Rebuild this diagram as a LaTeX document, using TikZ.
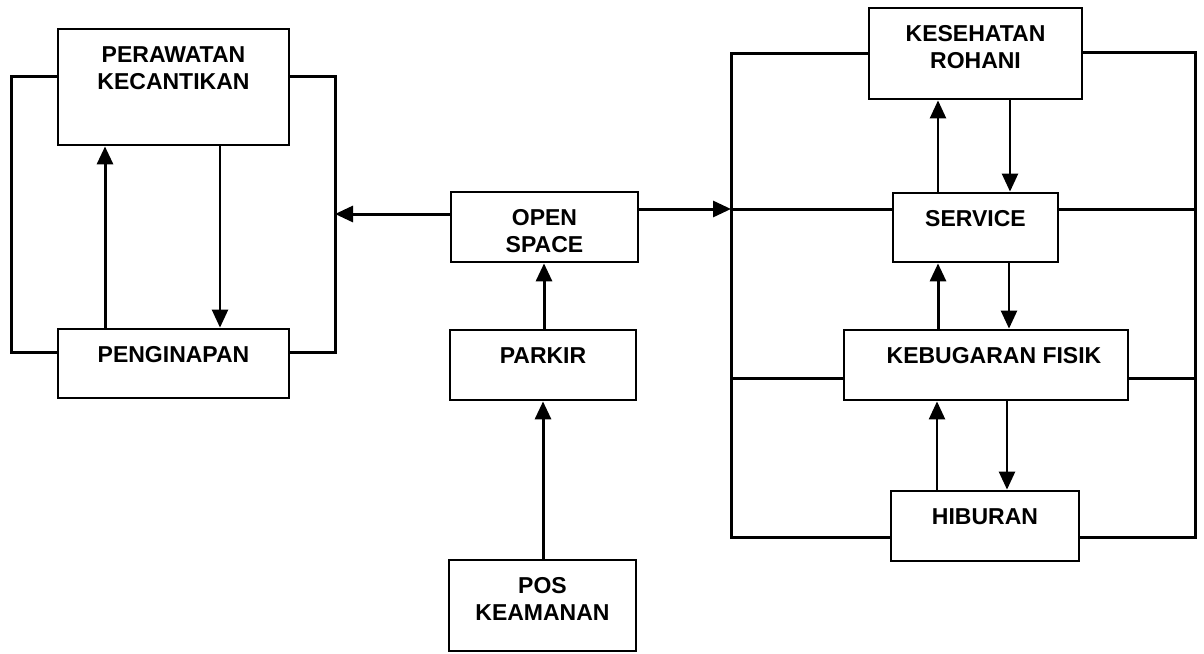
\documentclass[tikz,border=0pt]{standalone}
\usepackage{fontspec}
\setmainfont{Liberation Sans}
\usetikzlibrary{arrows.meta}
\tikzset{
  box/.style={draw, line width=2.8pt, inner sep=0pt, rectangle},
  lbl/.style={anchor=north, inner sep=0pt, yshift=-19pt, align=center,
    font=\fontsize{23}{26.5}\selectfont\bfseries},
  conn/.style={draw, line width=3pt, line cap=rect},
  conarr/.style={draw, line width=3pt, -{Triangle[length=18pt,width=16pt]}},
  conarrthin/.style={draw, line width=2.4pt, -{Triangle[length=18pt,width=16pt]}}
}
\begin{document}
\begin{tikzpicture}[x=1pt,y=-1pt]
\useasboundingbox (0,0) rectangle (1204,653);
% boxes
\node[box, minimum width=231pt, minimum height=116pt, label={[lbl]north:PERAWATAN\\KECANTIKAN}] (pk) at (173.5,87) {};
\node[box, minimum width=231pt, minimum height=69pt, label={[lbl]north:PENGINAPAN}] (pg) at (173.5,363.5) {};
\node[box, minimum width=187pt, minimum height=70pt, label={[lbl]north:OPEN\\SPACE}] (os) at (544.5,227) {};
\node[box, minimum width=186pt, minimum height=70pt, label={[lbl]north:PARKIR}] (pa) at (543,365) {};
\node[box, minimum width=187pt, minimum height=91pt, label={[lbl]north:POS\\KEAMANAN}] (pos) at (542.5,605.5) {};
\node[box, minimum width=213pt, minimum height=91pt, label={[lbl]north:KESEHATAN\\ROHANI}] (kr) at (975.5,53.5) {};
\node[box, minimum width=165pt, minimum height=69pt, label={[lbl]north:SERVICE}] (sv) at (975.5,227.5) {};
\node[box, minimum width=284pt, minimum height=70pt, label={[lbl,xshift=8pt]north:KEBUGARAN FISIK}] (kf) at (986,365) {};
\node[box, minimum width=188pt, minimum height=70pt, label={[lbl]north:HIBURAN}] (hb) at (985,526) {};
% left group
\path[conn] (pk.west |- 0,76) -- (11,76) -- (11,352) -- (pg.west |- 0,352);
\path[conn] (pk.east |- 0,76) -- (335,76) -- (335,352) -- (pg.east |- 0,352);
\path[conarr] (pg.north -| 105,0) -- (pk.south -| 105,0);
\path[conarrthin] (pk.south -| 220,0) -- (pg.north -| 220,0);
% centre
\coordinate (lloop) at (335,214);
\coordinate (rloop) at (731,209);
\path[conarr] (os.west |- lloop) -- (lloop);
\path[conarr] (os.east |- rloop) -- (rloop);
\path[conarr] (pa.north -| 544,0) -- (os.south -| 544,0);
\path[conarr] (pos.north -| 543,0) -- (pa.south -| 543,0);
% right group
\path[conn] (kr.west |- 0,53) -- (731,53) -- (731,537) -- (hb.west |- 0,537);
\path[conn] (kr.east |- 0,52) -- (1195,52) -- (1195,537) -- (hb.east |- 0,537);
\path[conn] (rloop) -- (sv.west |- rloop);
\path[conn] (sv.east |- rloop) -- (1195,209);
\path[conn] (731,378) -- (kf.west |- 0,378);
\path[conn] (kf.east |- 0,378) -- (1195,378);
\path[conarrthin] (sv.north -| 938,0) -- (kr.south -| 938,0);
\path[conarrthin] (kr.south -| 1010,0) -- (sv.north -| 1010,0);
\path[conarr] (kf.north -| 938,0) -- (sv.south -| 938,0);
\path[conarrthin] (sv.south -| 1009,0) -- (kf.north -| 1009,0);
\path[conarrthin] (hb.north -| 937,0) -- (kf.south -| 937,0);
\path[conarrthin] (kf.south -| 1007,0) -- (hb.north -| 1007,0);
\end{tikzpicture}
\end{document}
